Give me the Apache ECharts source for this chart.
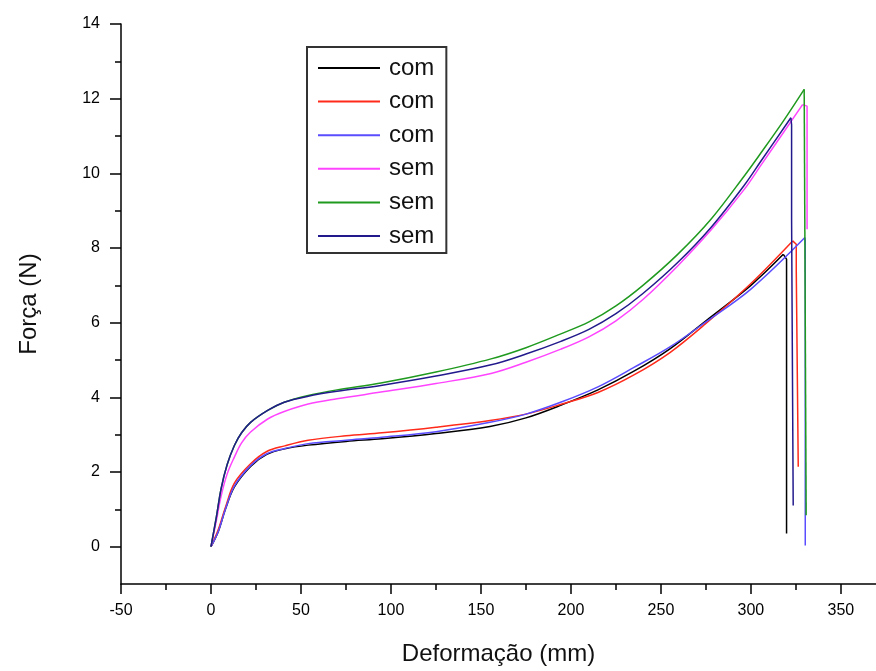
<!DOCTYPE html>
<html>
<head>
<meta charset="utf-8">
<script src="https://cdn.jsdelivr.net/npm/echarts@6/dist/echarts.min.js"></script>
<style>html,body{margin:0;padding:0;background:#fff;overflow:hidden}#c{width:876px;height:671px}</style>
</head>
<body>
<div id="c"></div>
<script>
// ---- data ----
const legendLabels = ['com', 'com', 'com', 'sem', 'sem', 'sem'];
const xTickLabels = [-50, 0, 50, 100, 150, 200, 250, 300, 350];
const xMinorTicks = [-25, 25, 75, 125, 175, 225, 275, 325];
const yTickLabels = [0, 2, 4, 6, 8, 10, 12, 14];
const yMinorTicks = [1, 3, 5, 7, 9, 11, 13];

// loading curves (up to the peak)
const com1X = [0, 4, 8, 13, 22, 31, 41, 54, 75, 95, 125, 155, 175, 195, 215, 235, 255, 275, 300, 318];
const com1Y = [0, 0.4, 1.0, 1.6, 2.15, 2.47, 2.62, 2.72, 2.82, 2.89, 3.03, 3.22, 3.45, 3.8, 4.2, 4.7, 5.3, 6.05, 7.0, 7.83];
const com2X = [0, 4, 8, 13, 22, 31, 41, 54, 75, 95, 125, 155, 175, 195, 215, 235, 255, 275, 300, 323.2];
const com2Y = [0, 0.45, 1.05, 1.7, 2.22, 2.55, 2.7, 2.85, 2.97, 3.05, 3.2, 3.38, 3.55, 3.82, 4.13, 4.6, 5.2, 5.98, 7.05, 8.19];
const com3X = [0, 4, 8, 13, 22, 31, 41, 54, 75, 95, 125, 155, 175, 195, 215, 235, 255, 275, 300, 330];
const com3Y = [0, 0.4, 1.0, 1.62, 2.17, 2.49, 2.63, 2.76, 2.85, 2.93, 3.08, 3.33, 3.55, 3.88, 4.28, 4.8, 5.35, 6.02, 6.9, 8.28];
const sem1X = [0, 3, 5.6, 9, 13, 17, 22, 31.5, 40.7, 54, 70, 94.4, 125, 155.6, 175, 194.4, 210, 225, 240, 259.3, 277.8, 296.3, 305.6, 328.7];
const sem1Y = [0, 0.7, 1.35, 1.95, 2.4, 2.78, 3.07, 3.42, 3.62, 3.82, 3.96, 4.14, 4.37, 4.64, 4.94, 5.29, 5.62, 6.05, 6.62, 7.52, 8.48, 9.57, 10.22, 11.84];
const sem2X = [0, 3, 5.6, 9, 13, 17, 22, 31.5, 40.7, 54, 70, 94.4, 125, 155.6, 175, 194.4, 210, 225, 240, 259.3, 277.8, 296.3, 305.6, 318, 329.6];
const sem2Y = [0, 0.8, 1.55, 2.2, 2.71, 3.05, 3.33, 3.65, 3.87, 4.05, 4.2, 4.385, 4.68, 5.03, 5.33, 5.7, 6.02, 6.45, 7.0, 7.83, 8.77, 9.93, 10.55, 11.4, 12.25];
const sem3X = [0, 3, 5.6, 9, 13, 17, 22, 31.5, 40.7, 54, 70, 94.4, 125, 155.6, 175, 194.4, 210, 225, 240, 259.3, 277.8, 296.3, 305.6, 322.2];
const sem3Y = [0, 0.8, 1.55, 2.2, 2.71, 3.05, 3.33, 3.65, 3.87, 4.03, 4.16, 4.32, 4.57, 4.87, 5.16, 5.5, 5.82, 6.24, 6.78, 7.61, 8.55, 9.68, 10.33, 11.49];

// rupture drops (from the peak down)
const com1DropX = [318, 319.8, 319.8];
const com1DropY = [7.83, 7.7, 0.35];
const com2DropX = [323.2, 325.2, 325.2, 326.3, 326.3];
const com2DropY = [8.19, 8.1, 7.39, 7.35, 2.14];
const com3DropX = [330, 330.2, 330.2];
const com3DropY = [8.28, 8.2, 0.03];
const sem1DropX = [328.7, 331.2, 331.2];
const sem1DropY = [11.84, 11.8, 8.5];
const sem2DropX = [329.6, 330.7, 330.7];
const sem2DropY = [12.25, 12.2, 0.84];
const sem3DropX = [322.2, 322.6, 322.6, 323.5, 323.5];
const sem3DropY = [11.49, 11.3, 8.77, 8.72, 1.1];

// ---- chart ----
const FONT = '"Liberation Sans", Arial, sans-serif';
const zip = (xs, ys) => xs.map((x, i) => [x, ys[i]]);
const seriesDefs = [
  { id: 'c1', xs: com1X, ys: com1Y, dx: com1DropX, dy: com1DropY, color: '#000000' },
  { id: 'c2', xs: com2X, ys: com2Y, dx: com2DropX, dy: com2DropY, color: '#ff2a1a' },
  { id: 'c3', xs: com3X, ys: com3Y, dx: com3DropX, dy: com3DropY, color: '#5a4cff' },
  { id: 's1', xs: sem1X, ys: sem1Y, dx: sem1DropX, dy: sem1DropY, color: '#ff44ff' },
  { id: 's2', xs: sem2X, ys: sem2Y, dx: sem2DropX, dy: sem2DropY, color: '#1f9a1f' },
  { id: 's3', xs: sem3X, ys: sem3Y, dx: sem3DropX, dy: sem3DropY, color: '#221a8c' }
];
const labelById = {};
seriesDefs.forEach((d, i) => { labelById[d.id] = legendLabels[i]; });

const series = [];
seriesDefs.forEach(d => {
  series.push({
    id: d.id, name: d.id, type: 'line', data: zip(d.xs, d.ys),
    showSymbol: false, symbol: 'none', smooth: 0.35,
    color: d.color, lineStyle: { color: d.color, width: 1.5 },
    emphasis: { disabled: true }
  });
  series.push({
    id: d.id + '_drop', name: d.id + '_drop', type: 'line', data: zip(d.dx, d.dy),
    showSymbol: false, symbol: 'none', smooth: false,
    color: d.color, lineStyle: { color: d.color, width: 1.5 },
    emphasis: { disabled: true }
  });
});

const chart = echarts.init(document.getElementById('c'), null, { renderer: 'canvas', width: 876, height: 671 });
chart.setOption({
  animation: false,
  backgroundColor: '#ffffff',
  grid: { left: 121, right: 0, top: 24, height: 564, containLabel: false },
  legend: {
    orient: 'vertical',
    left: 307, top: 47,
    padding: [9, 12, 5, 11],
    itemWidth: 62, itemHeight: 2, itemGap: 9.6,
    icon: 'rect',
    borderColor: '#333', borderWidth: 2,
    data: seriesDefs.map(d => d.id),
    formatter: n => labelById[n],
    textStyle: { fontFamily: FONT, fontSize: 24, lineHeight: 24, color: '#111', padding: [0, 0, 0, 4] }
  },
  xAxis: [{
    type: 'value', min: -50, max: 369.5,
    name: 'Deformação (mm)', nameLocation: 'middle', nameGap: 58,
    nameTextStyle: { fontFamily: FONT, fontSize: 24, color: '#111' },
    axisLine: { show: true, onZero: false, lineStyle: { color: '#000', width: 1.5 } },
    axisTick: { show: true, inside: false, length: 10, customValues: xTickLabels, lineStyle: { color: '#000', width: 1.5 } },
    axisLabel: { customValues: xTickLabels, margin: 19, fontFamily: FONT, fontSize: 16, color: '#000' },
    splitLine: { show: false }
  }, {
    type: 'value', min: -50, max: 369.5, position: 'bottom', gridIndex: 0,
    axisLine: { show: false, onZero: false },
    axisTick: { show: true, inside: false, length: 6, customValues: xMinorTicks, lineStyle: { color: '#000', width: 1.5 } },
    axisLabel: { show: false },
    splitLine: { show: false }
  }],
  yAxis: [{
    type: 'value', min: -1, max: 14,
    name: 'Força (N)', nameLocation: 'middle', nameGap: 80,
    nameTextStyle: { fontFamily: FONT, fontSize: 24, color: '#111' },
    axisLine: { show: true, onZero: false, lineStyle: { color: '#000', width: 1.5 } },
    axisTick: { show: true, inside: false, length: 11, customValues: yTickLabels, lineStyle: { color: '#000', width: 1.5 } },
    axisLabel: { customValues: yTickLabels, margin: 21, fontFamily: FONT, fontSize: 16, color: '#000' },
    splitLine: { show: false }
  }, {
    type: 'value', min: -1, max: 14, position: 'left', gridIndex: 0,
    axisLine: { show: false, onZero: false },
    axisTick: { show: true, inside: false, length: 6, customValues: yMinorTicks, lineStyle: { color: '#000', width: 1.5 } },
    axisLabel: { show: false },
    splitLine: { show: false }
  }],
  series: series
});
</script>
</body>
</html>
